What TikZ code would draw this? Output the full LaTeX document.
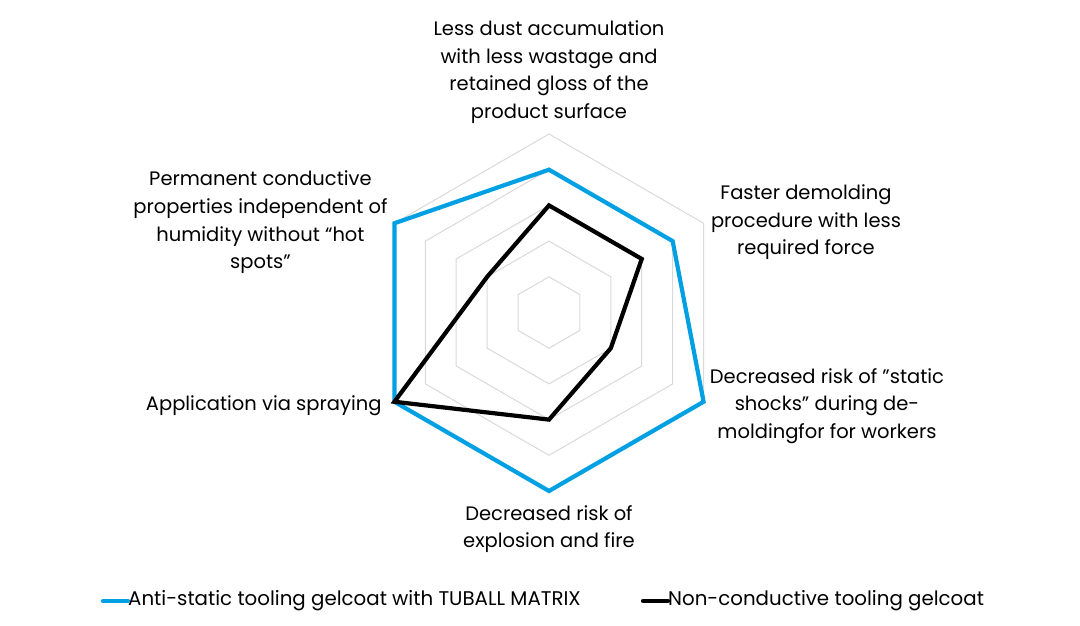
\documentclass[tikz,border=0pt]{standalone}
\usepackage{fontspec}
\setmainfont{Poppins}
\definecolor{tuballblue}{RGB}{0,160,227}
\definecolor{gridgray}{RGB}{217,217,217}

\begin{document}
\begin{tikzpicture}[x=1pt, y=1pt]
    \tikzset{axis label/.style={align=center, inner sep=0pt,
            font=\fontsize{19.5}{27.6}\selectfont},
        grid ring/.style={draw=gridgray, line width=1pt},
        anti line/.style={draw=tuballblue, line width=4.2pt, line join=miter},
        non line/.style={draw=black, line width=4.2pt, line join=miter},
        legend text/.style={anchor=west, inner sep=0pt,
            font=\fontsize{19.8}{22}\selectfont}}
    \useasboundingbox (-549,-313.5) rectangle (531,312.5);
    \foreach \r in {1,...,5}
        \draw[grid ring] (90:{\r*35.7}) -- (30:{\r*35.7}) -- (-30:{\r*35.7})
            -- (-90:{\r*35.7}) -- (210:{\r*35.7}) -- (150:{\r*35.7}) -- cycle;
    % data points, one per axis
    \foreach \a/\b/\n [count=\i] in {90/4/3, 30/4/3, -30/5/2, -90/5/3, 210/5/5, 150/5/2} {
        \coordinate (a\i) at (\a:{\b*35.7});
        \coordinate (n\i) at (\a:{\n*35.7});
    }
    \draw[anti line] (a1) -- (a2) -- (a3) -- (a4) -- (a5) -- (a6) -- cycle;
    \draw[non line] (n1) -- (n2) -- (n3) -- (n4) -- (n5) -- (n6) -- cycle;
    \node[axis label] (dust) at (0,240.5) {Less dust accumulation\\with less wastage and\\retained gloss of the\\product surface};
    \node[axis label] (demold) at (257,90) {Faster demolding\\procedure with less\\required force};
    \node[axis label] (shock) at (278,-93.5) {Decreased risk of ”static\\shocks” during de-\\moldingfor for workers};
    \node[axis label] (fire) at (0,-216.5) {Decreased risk of\\explosion and fire};
    \node[axis label, anchor=base east] (spray) at (-167.3,-98.2) {Application via spraying};
    \node[axis label] (perm) at (-288.5,90) {Permanent conductive\\properties independent of\\humidity without “hot\\spots”};
    % legend
    \coordinate (la) at (-446,-288.5);
    \node[legend text] (lb) at (-421,-288.5) {Anti-static tooling gelcoat with TUBALL MATRIX};
    \coordinate (na) at (94,-288.5);
    \node[legend text] (nb) at (119,-288.5) {Non-conductive tooling gelcoat};
    \draw[anti line, line cap=round] (la) -- (lb.west);
    \draw[non line, line cap=round] (na) -- (nb.west);
\end{tikzpicture}
\end{document}
